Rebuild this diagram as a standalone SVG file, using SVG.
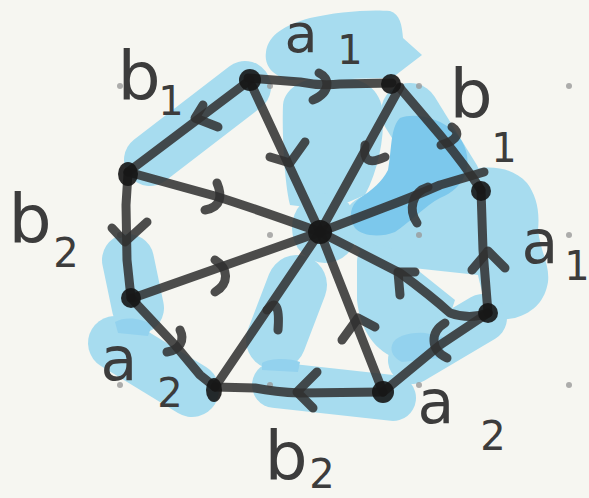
<svg xmlns="http://www.w3.org/2000/svg" width="589" height="498" viewBox="0 0 589 498">
<style>
.hl{fill:none;stroke:#a7dcef;stroke-linecap:round;stroke-linejoin:round}
.hf{fill:#a7dcef}
.dk{fill:#7cc8ec}
.dl{fill:#93d2ee}
.edge{fill:none;stroke:#303030;stroke-opacity:0.86;stroke-width:9;stroke-linecap:round;stroke-linejoin:round}
.node{fill:#151515;fill-opacity:0.9}
.dot{fill:#9a9a9a;fill-opacity:0.8}
.lbl{font-family:"DejaVu Sans",sans-serif;fill:#3c3c3c;text-anchor:middle}
.bb{font-size:68px}
.aa{font-size:60px}
.sub{font-size:40px}
</style>
<rect width="589" height="498" fill="#f6f6f1"/>
<g id="highlights">
<path class="hl" stroke-width="52" d="M150,160 L245,87"/>
<path class="hf" d="M266,52 C268,35 285,25 310,18 C335,12 370,9 390,11 C400,14 402,25 403,38 L422,55 L405,68 L392,78 L290,80 C272,76 264,65 266,52 Z"/>
<path class="hf" d="M283,105 C285,85 310,75 335,76 C362,77 382,88 383,115 C384,140 378,170 365,195 L330,210 L290,205 C284,180 282,130 283,105 Z"/>
<ellipse class="hf" cx="325" cy="228" rx="33" ry="35"/>
<path class="hl" stroke-width="58" d="M410,112 L452,180"/>
<path class="hf" d="M350,205 C360,192 400,185 440,178 L480,168 C498,166 515,170 527,183 C536,195 540,210 538,230 C540,250 550,265 548,282 C545,300 535,312 515,318 L500,320 C488,312 482,295 478,275 L413,268 C385,264 360,258 352,240 C348,228 346,215 350,205 Z"/>
<path class="hf" d="M357,262 C357,245 375,240 395,250 L415,268 L455,300 L440,345 L400,360 C375,352 360,330 357,300 Z"/>
<path class="hl" stroke-width="48" d="M412,360 L483,318"/>
<path class="hl" stroke-width="60" d="M297,285 L276,340"/>
<path class="hl" stroke-width="46" d="M275,385 L393,398"/>
<path class="hl" stroke-width="52" d="M128,260 L138,308"/>
<path class="hl" stroke-width="54" d="M115,343 L192,390"/>
<path class="dk" d="M400,118 C415,112 440,118 455,132 C466,144 470,158 466,172 C462,185 452,193 440,198 C425,206 410,222 395,232 C380,238 362,236 355,228 C348,218 350,205 360,198 C372,190 382,182 388,170 C392,150 390,128 400,118 Z"/>
<path class="dl" d="M392,345 C395,336 410,332 425,333 L448,338 L440,358 L402,362 C394,358 390,352 392,345 Z"/>
<path class="dl" d="M262,363 C270,358 290,358 300,362 L298,372 L262,370 Z"/>
<path class="dl" d="M115,322 C125,316 142,318 152,325 L148,336 L118,333 Z"/>
</g>
<g id="grid">
<circle class="dot" cx="120" cy="86" r="3"/>
<circle class="dot" cx="270" cy="86" r="3"/>
<circle class="dot" cx="419" cy="86" r="3"/>
<circle class="dot" cx="569" cy="86" r="3"/>
<circle class="dot" cx="120" cy="235" r="3"/>
<circle class="dot" cx="270" cy="235" r="3"/>
<circle class="dot" cx="419" cy="235" r="3"/>
<circle class="dot" cx="569" cy="235" r="3"/>
<circle class="dot" cx="120" cy="385" r="3"/>
<circle class="dot" cx="270" cy="385" r="3"/>
<circle class="dot" cx="419" cy="385" r="3"/>
<circle class="dot" cx="569" cy="385" r="3"/>
</g>
<g id="connectors">
<path class="edge" d="M248,78 L300,82 Q320,86 340,84 L392,83"/>
<path class="edge" d="M400,88 L440,135 Q465,165 481,190"/>
<path class="edge" d="M481,190 L483,250 L488,313"/>
<path class="edge" d="M488,313 L440,345 L383,392"/>
<path class="edge" d="M383,392 L300,393 Q275,392 255,388 L215,387"/>
<path class="edge" d="M215,387 L200,375 L175,345 L131,298"/>
<path class="edge" d="M131,298 L127,260 L126,205 L128,173"/>
<path class="edge" d="M128,172 L250,80"/>
<path class="edge" d="M252,86 L320,232"/>
<path class="edge" d="M400,87 L320,232"/>
<path class="edge" d="M484,172 L440,185 Q410,198 383,208 L320,232"/>
<path class="edge" d="M320,232 L400,273 Q430,295 450,313 Q470,320 488,313"/>
<path class="edge" d="M320,232 L383,392"/>
<path class="edge" d="M320,232 L215,387"/>
<path class="edge" d="M320,232 L133,298"/>
<path class="edge" d="M128,172 L215,196 Q250,207 320,232"/>
<path class="edge" d="M319,73 C330,78 331,92 313,100"/>
<path class="edge" d="M452,127 C460,132 459,140 441,145"/>
<path class="edge" d="M472,270 L488,251 L505,268"/>
<path class="edge" d="M445,323 C430,332 430,350 447,358"/>
<path class="edge" d="M317,372 L297,392 L313,408"/>
<path class="edge" d="M180,330 C185,340 180,350 167,352"/>
<path class="edge" d="M112,228 L125,242 L147,222"/>
<path class="edge" d="M203,105 L195,118 L218,127"/>
<path class="edge" d="M270,157 L290,163 L305,142"/>
<path class="edge" d="M365,145 C363,160 368,165 385,157"/>
<path class="edge" d="M217,183 C222,195 222,207 205,210"/>
<path class="edge" d="M215,260 C228,268 230,283 215,292"/>
<path class="edge" d="M267,310 C275,300 280,305 278,330"/>
<path class="edge" d="M342,340 L358,318 L375,327"/>
<path class="edge" d="M400,295 L398,272 L415,272"/>
<path class="edge" d="M428,187 C412,192 408,210 417,223"/>
</g>
<g id="n1"><circle class="node" cx="250" cy="80" r="11"/></g>
<g id="n2"><circle class="node" cx="391" cy="84" r="10"/></g>
<g id="n3"><circle class="node" cx="481" cy="191" r="10"/></g>
<g id="n4"><circle class="node" cx="488" cy="313" r="10"/></g>
<g id="n5"><circle class="node" cx="383" cy="392" r="11"/></g>
<g id="n6"><ellipse class="node" cx="214" cy="390" rx="8" ry="12"/></g>
<g id="n7"><circle class="node" cx="131" cy="298" r="10"/></g>
<g id="n8"><ellipse class="node" cx="128" cy="174" rx="10" ry="12"/></g>
<g id="center"><circle class="node" cx="320" cy="232" r="12"/></g>
<g id="labels">
<text class="lbl"><tspan class="bb" x="139" y="100">b</tspan><tspan class="sub" x="171" y="115">1</tspan></text>
<text class="lbl"><tspan x="301" y="52" font-size="54">a</tspan><tspan class="sub" x="350" y="64">1</tspan></text>
<text class="lbl"><tspan class="bb" x="471" y="118">b</tspan><tspan class="sub" x="504" y="162" font-size="56">1</tspan></text>
<text class="lbl"><tspan class="aa" x="540" y="263">a</tspan><tspan class="sub" x="577" y="280">1</tspan></text>
<text class="lbl"><tspan class="aa" x="436" y="423">a</tspan><tspan class="sub" x="493" y="450">2</tspan></text>
<text class="lbl"><tspan class="bb" x="286" y="480">b</tspan><tspan class="sub" x="322" y="488">2</tspan></text>
<text class="lbl"><tspan class="bb" x="30" y="243">b</tspan><tspan class="sub" x="66" y="267">2</tspan></text>
<text class="lbl"><tspan class="aa" x="119" y="380">a</tspan><tspan class="sub" x="170" y="407">2</tspan></text>
</g>
</svg>
